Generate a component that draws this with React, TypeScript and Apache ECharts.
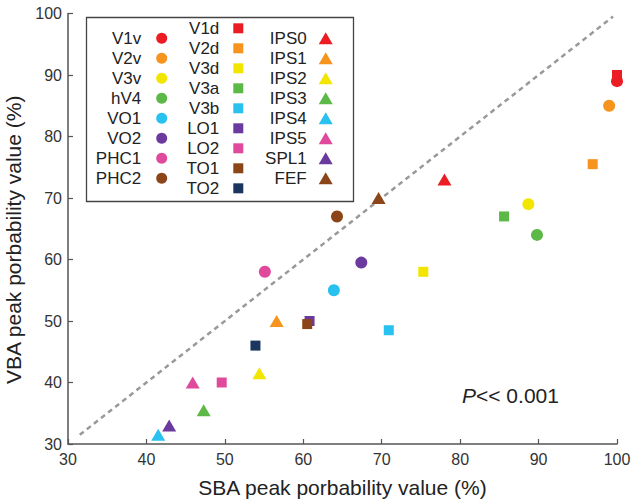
import React, { useEffect, useRef } from "react";
import * as echarts from "echarts";

// Regions: name, SBA (x), VBA (y), colour
const circleNames = ["V1v", "V2v", "V3v", "hV4", "VO1", "VO2", "PHC1", "PHC2"];
const circleSBA = [100, 99, 88.7, 89.8, 63.9, 67.4, 55.1, 64.3];
const circleVBA = [89, 85, 69, 64, 55, 59.5, 58, 67];
const circleColors = ["#ec1c24", "#f7941d", "#f2e500", "#5cb947", "#29c1ef", "#6a3a9e", "#e04a9c", "#8b4518"];

const squareNames = ["V1d", "V2d", "V3d", "V3a", "V3b", "LO1", "LO2", "TO1", "TO2"];
const squareSBA = [100, 96.9, 75.3, 85.6, 70.9, 60.8, 49.6, 60.5, 53.9];
const squareVBA = [90, 75.5, 58, 67, 48.5, 50, 40, 49.5, 46];
const squareColors = ["#ec1c24", "#f7941d", "#f2e500", "#5cb947", "#29c1ef", "#6a3a9e", "#e04a9c", "#8b4518", "#1b355f"];

const triangleNames = ["IPS0", "IPS1", "IPS2", "IPS3", "IPS4", "IPS5", "SPL1", "FEF"];
const triangleSBA = [78, 56.6, 54.4, 47.3, 41.5, 45.9, 42.9, 69.6];
const triangleVBA = [73, 50, 41.5, 35.5, 31.5, 40, 33, 70];
const triangleColors = ["#ec1c24", "#f7941d", "#f2e500", "#5cb947", "#29c1ef", "#e04a9c", "#6a3a9e", "#8b4518"];

const identityLine = [[31.5, 31.5], [99.5, 99.5]];
const xTicks = { min: 30, max: 100, interval: 10 };
const yTicks = { min: 30, max: 100, interval: 10 };

const FONT = "'Liberation Sans', Arial, Helvetica, sans-serif";

export default function App() {
  const ref = useRef<HTMLDivElement>(null);
  useEffect(() => {
    if (!ref.current) return;
    const chart = echarts.init(ref.current, null, { renderer: "svg" });

    const mk = (names: string[], xs: number[], ys: number[], colors: string[], symbol: string, size: any) =>
      names.map((n, i) => ({
        name: n,
        type: "scatter",
        symbol,
        symbolSize: size,
        data: [[xs[i], ys[i]]],
        itemStyle: { color: colors[i], opacity: 1 },
        z: 3,
      }));

    const legendBase = {
      orient: "vertical",
      align: "right",
      padding: 0,
      itemGap: 0,
      selectedMode: false,
    };

    const option: any = {
      animation: false,
      grid: { left: 68, right: 18, top: 13.5, bottom: 55, containLabel: false, outerBoundsMode: "none" },
      xAxis: {
        type: "value",
        ...xTicks,
        name: "SBA peak porbability value (%)",
        nameLocation: "middle",
        nameGap: 33,
        nameTextStyle: { fontSize: 21, color: "#222", fontFamily: FONT },
        axisLine: { lineStyle: { color: "#555", width: 1.5 } },
        axisTick: { inside: true, length: 5, lineStyle: { color: "#555", width: 1.2 } },
        axisLabel: { fontSize: 16, color: "#333", fontFamily: FONT, margin: 7 },
        splitLine: { show: false },
      },
      yAxis: {
        type: "value",
        ...yTicks,
        name: "VBA peak porbability value (%)",
        nameLocation: "middle",
        nameGap: 38,
        nameTextStyle: { fontSize: 21, color: "#222", fontFamily: FONT, padding: [0, 22, 0, 0] },
        axisLine: { show: true, lineStyle: { color: "#555", width: 1.5 } },
        axisTick: { show: true, inside: true, length: 5, lineStyle: { color: "#555", width: 1.2 } },
        axisLabel: { fontSize: 16, color: "#333", fontFamily: FONT, margin: 6 },
        splitLine: { show: false },
      },
      legend: [
        {
          ...legendBase,
          data: circleNames.map((n) => ({ name: n, icon: "circle" })),
          right: 467.8,
          top: 28.3,
          itemWidth: 11,
          itemHeight: 11,
          textStyle: { fontSize: 17, lineHeight: 20, color: "#222", fontFamily: FONT, padding: [0, 10, 0, 0] },
        },
        {
          ...legendBase,
          data: squareNames.map((n) => ({ name: n, icon: "rect" })),
          right: 391.7,
          top: 18.3,
          itemWidth: 10,
          itemHeight: 10,
          textStyle: { fontSize: 17, lineHeight: 20, color: "#222", fontFamily: FONT, padding: [0, 9, 0, 0] },
        },
        {
          ...legendBase,
          data: triangleNames.map((n) => ({ name: n, icon: "triangle" })),
          right: 302.3,
          top: 28.3,
          itemWidth: 14,
          itemHeight: 12,
          textStyle: { fontSize: 17, lineHeight: 20, color: "#222", fontFamily: FONT, padding: [0, 7, 0, 0] },
        },
      ],
      graphic: [
        {
          type: "rect",
          left: 84,
          top: 15,
          shape: { width: 267, height: 184 },
          style: { fill: "none", stroke: "#444", lineWidth: 1.3 },
          z: 1,
        },
        {
          type: "text",
          left: 462,
          top: 385,
          style: {
            text: "{p|P}{r|<< 0.001}",
            rich: {
              p: { fontSize: 21, fontStyle: "italic", fontFamily: FONT, fill: "#222" },
              r: { fontSize: 21, fontFamily: FONT, fill: "#222" },
            },
          },
        },
      ],
      series: [
        {
          type: "line",
          data: identityLine,
          symbol: "none",
          silent: true,
          lineStyle: { color: "#999", width: 2.5, type: [5, 4] },
          z: 1,
        },
        ...mk(circleNames, circleSBA, circleVBA, circleColors, "circle", 12),
        ...mk(squareNames, squareSBA, squareVBA, squareColors, "rect", 10),
        ...mk(triangleNames, triangleSBA, triangleVBA, triangleColors, "triangle", [14, 12]),
      ],
    };
    chart.setOption(option);
    return () => chart.dispose();
  }, []);
  return (
    <div
      ref={ref}
      style={{ position: "absolute", left: 0, top: 0, width: 635, height: 499, background: "#fff" }}
    />
  );
}
